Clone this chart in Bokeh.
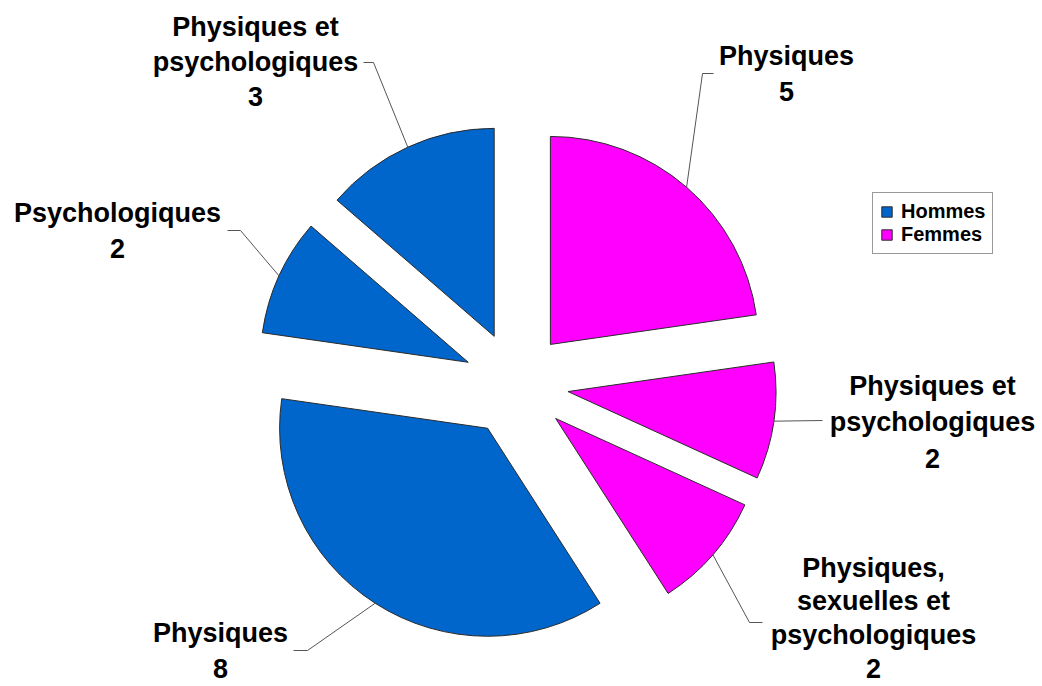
import math
from bokeh.plotting import figure
from bokeh.models import Range1d, ColumnDataSource, Legend, LegendItem
from bokeh.core.properties import value
from bokeh.embed import file_html
from bokeh.resources import INLINE

# ---------------- data ----------------
categories = ["Physiques", "Physiques et\npsychologiques",
              "Physiques,\nsexuelles et\npsychologiques",
              "Physiques", "Psychologiques", "Physiques et\npsychologiques"]
values = [5, 2, 2, 8, 2, 3]
groups = ["Femmes", "Femmes", "Femmes", "Hommes", "Hommes", "Hommes"]
series = ["Hommes", "Femmes"]
series_colors = ["#0066CC", "#FF00FF"]

# ---------------- layout (page pixels) ----------------
W, H, PAD = 1042, 686, 0
CENTER = (515.5, 383.6)
RADIUS = 208
EXPLODE = 52.5
FONT = "Liberation Sans"
label_x = [786, 932, 873, 220, 117, 255]
label_y0 = [55, 385, 567, 632, 212, 26.5]
label_step = [36, 36.5, 33.5, 36, 36, 34.5]
elbow = [(702, 73), (822, 420), (749, 622), (307, 650), (240, 230), (373, 62)]
stub = [(713, 73), (822, 420), (762, 622), (293, 650), (227, 230), (363, 62)]


def dx(X):
    return X - PAD


def dy(Y):
    return H + PAD - Y


p = figure(width=W, height=H, x_range=Range1d(0, W), y_range=Range1d(0, H),
           output_backend="svg", toolbar_location=None,
           x_axis_location=None, y_axis_location=None, min_border=0)
p.grid.visible = False
p.outline_line_color = None
p.background_fill_color = "white"
p.border_fill_color = "white"

cx, cy = dx(CENTER[0]), dy(CENTER[1])
total = float(sum(values))
cum = 0.0
wedge_data = {s: dict(x=[], y=[], start=[], end=[]) for s in series}
lead_xs, lead_ys = [], []
txt = dict(x=[], y=[], text=[])
for i, v in enumerate(values):
    a0 = 90 - cum / total * 360
    a1 = 90 - (cum + v) / total * 360
    cum += v
    mid = math.radians((a0 + a1) / 2)
    wx = cx + EXPLODE * math.cos(mid)
    wy = cy + EXPLODE * math.sin(mid)
    d = wedge_data[groups[i]]
    d["x"].append(wx)
    d["y"].append(wy)
    d["start"].append(math.radians(a1))
    d["end"].append(math.radians(a0))
    # leader line from arc midpoint
    sx = wx + RADIUS * math.cos(mid)
    sy = wy + RADIUS * math.sin(mid)
    lead_xs.append([sx, dx(elbow[i][0]), dx(stub[i][0])])
    lead_ys.append([sy, dy(elbow[i][1]), dy(stub[i][1])])
    lines = categories[i].split("\n") + [str(v)]
    for j, ln in enumerate(lines):
        txt["x"].append(dx(label_x[i]))
        txt["y"].append(dy(label_y0[i] + j * label_step[i]))
        txt["text"].append(ln)

renderers = {}
for s, c in zip(series, series_colors):
    src = ColumnDataSource(wedge_data[s])
    renderers[s] = p.wedge(x="x", y="y", radius=RADIUS, start_angle="start",
                           end_angle="end", source=src, fill_color=c,
                           line_color="#2a2a2a", line_width=1)

p.multi_line(xs=lead_xs, ys=lead_ys, line_color="#555555", line_width=1)

p.text(x="x", y="y", text="text", source=ColumnDataSource(txt),
       text_align="center", text_baseline="middle",
       text_font=value(FONT), text_font_style="bold",
       text_font_size="27px", text_color="black")

legend = Legend(items=[LegendItem(label=s, renderers=[renderers[s]]) for s in series],
                location=(dx(872), dy(254)),
                label_text_font=FONT, label_text_font_style="bold",
                label_text_font_size="20px", label_text_color="black",
                glyph_width=13, glyph_height=13, label_standoff=8,
                padding=7, spacing=0, margin=0,
                border_line_color="#333333", border_line_width=1,
                background_fill_color="white", background_fill_alpha=1)
p.add_layout(legend)

open("out.html", "w").write(file_html(p, INLINE))
